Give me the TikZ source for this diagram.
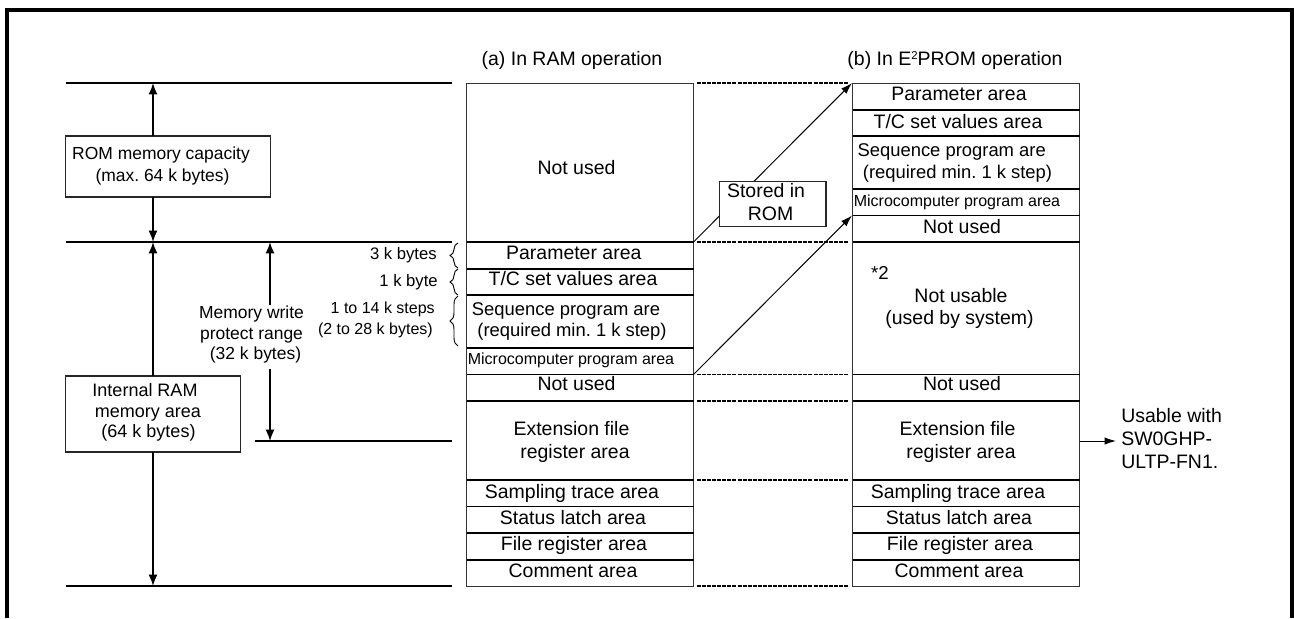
\documentclass[tikz,border=0pt]{standalone}
\usepackage{fontspec}
\setmainfont{Liberation Sans}
\usetikzlibrary{arrows.meta,decorations.pathreplacing}
\newcommand{\fsz}[1]{\fontsize{#1}{#1}\selectfont\frenchspacing}
\tikzset{
  x=0.75pt,y=-0.75pt,
  frameline/.style={line width=3pt,line cap=butt,line join=miter},
  level/.style={line width=1.1pt},
  sep/.style={line width=1.15pt},
  tablebox/.style={draw=black!80,line width=0.75pt,minimum width=#1*0.75pt,minimum height=503*0.75pt,inner sep=0pt},
  txt/.style={inner sep=0pt,font=\fsz{#1pt},text height=#1*0.716pt,text depth=0pt},
  lab/.style={txt=14.6},
  seqlab/.style={txt=13.8},
  smalllab/.style={txt=12.5},
  rangelab/.style={txt=12.0},
  midlab/.style={txt=13.1},
  boxlab/.style={txt=13.5},
  microlab/.style={txt=12.0},
  infobox/.style={draw=black!85,line width=0.8pt,fill=white,inner sep=0pt},
  arr/.style={line width=1.1pt,-{Latex[length=8.5pt,width=6.7pt]}},
  thinarr/.style={line width=0.75pt,-{Latex[length=8.5pt,width=5.5pt]}},
  dashline/.style={line width=1.05pt,dash pattern=on 3pt off 0.8pt},
  bracemark/.style={line width=0.7pt,decorate,decoration={brace,amplitude=6pt}},
}
\begin{document}
\begin{tikzpicture}
\useasboundingbox (0,0) rectangle (1294,618);
% frame
\draw[frameline] (7,618) -- (7,10) -- (1292,10) -- (1292,618);
% level lines
\coordinate (l1a) at (66,83);  \coordinate (l1b) at (452,83);
\coordinate (l2a) at (66,242); \coordinate (l2b) at (452,242);
\coordinate (l3a) at (66,586); \coordinate (l3b) at (452,586);
\coordinate (l4a) at (255,441);\coordinate (l4b) at (452,441);
\draw[level] (l1a)--(l1b); \draw[level] (l2a)--(l2b); \draw[level] (l3a)--(l3b); \draw[level] (l4a)--(l4b);
% left boxes
\node[infobox,minimum width=205*0.75pt,minimum height=61*0.75pt] (rom) at (167.75,166.5) {};
\node[midlab] (romt1) at (161,153) {ROM memory capacity};
\node[midlab] (romt2) at (162.5,175) {(max. 64 k bytes)};
\node[infobox,minimum width=175*0.75pt,minimum height=76*0.75pt] (ram) at (153,414) {};
\node[boxlab] (ramt1) at (145,390) {Internal RAM};
\node[boxlab] (ramt2) at (148,411) {memory area};
\node[boxlab] (ramt3) at (148.5,431) {(64 k bytes)};
% left arrows
\coordinate (a1) at (153,83);  \coordinate (a1b) at (153,136);
\coordinate (a2) at (153,197); \coordinate (a2b) at (153,242);
\coordinate (a3) at (153,376); \coordinate (a4) at (153,452); \coordinate (a5) at (153,586);
\draw[arr] (a1b)--(a1); \draw[arr] (a2)--(a2b);
\draw[arr] (a3)--(a2b); \draw[arr] (a4)--(a5);
% write protect
\coordinate (w1) at (270,242); \coordinate (w2) at (270,305);
\coordinate (w3) at (270,369); \coordinate (w4) at (270,441);
\draw[arr] (w2)--(w1); \draw[arr] (w3)--(w4);
\node[midlab] (wt1) at (251.5,312) {Memory write};
\node[midlab] (wt2) at (251.5,333) {protect range};
\node[midlab] (wt3) at (255.5,353) {(32 k bytes)};
% sizes
\node[smalllab,anchor=east] (s1) at (437,254) {3 k bytes};
\node[smalllab,anchor=east] (s2) at (438,281) {1 k byte};
\node[rangelab,anchor=east] (s3) at (435,308) {1 to 14 k steps};
\node[rangelab,anchor=east] (s4) at (433,329) {(2 to 28 k bytes)};
\draw[bracemark] (458,268) -- (458,243);
\draw[bracemark] (458,295) -- (458,269);
\draw[bracemark] (458,346) -- (458,296);
% titles
\node[lab] (ta) at (572,59) {(a) In RAM operation};
\node[lab] (tb) at (955,59) {(b) In E\raisebox{4.5pt}{\fsz{8.5pt}2}PROM operation};
% tables
\node[tablebox=227] (ta1) at (580,334.5) {};
\node[tablebox=227] (tb1) at (966,334.5) {};
\foreach \y in {242,269,295,348,374.5,401,480,506.5,533,560}
  \draw[sep] (466.5,\y) -- (693.5,\y);
\foreach \y in {110,136,189,215.5,242,374.5,401,480,506.5,533,560}
  \draw[sep] (852.5,\y) -- (1079.5,\y);
% left table text
\node[lab] (a_n) at (576.5,168) {Not used};
\node[lab] (a_p) at (573.8,253) {Parameter area};
\node[lab] (a_t) at (573,279) {T/C set values area};
\node[seqlab] (a_s1) at (566,309) {Sequence program are};
\node[seqlab] (a_s2) at (572,330) {(required min. 1 k step)};
\node[microlab] (a_m) at (571,358.5) {Microcomputer program area};
\node[lab] (a_n2) at (576.5,384) {Not used};
\node[lab] (a_e1) at (571.5,429) {Extension file};
\node[lab] (a_e2) at (575,452) {register area};
\node[lab] (a_sa) at (572,492) {Sampling trace area};
\node[lab] (a_st) at (573,518) {Status latch area};
\node[lab] (a_fi) at (574,544) {File register area};
\node[lab] (a_co) at (573,571) {Comment area};
% right table text
\node[lab] (b_p) at (959,94) {Parameter area};
\node[lab] (b_t) at (958,122) {T/C set values area};
\node[seqlab] (b_s1) at (951.7,150) {Sequence program are};
\node[seqlab] (b_s2) at (957.5,172) {(required min. 1 k step)};
\node[microlab] (b_m) at (957,201) {Microcomputer program area};
\node[lab] (b_n) at (962,227) {Not used};
\node[txt=14] (b_star) at (880,273) {*2};
\node[lab] (b_u1) at (961,296) {Not usable};
\node[lab] (b_u2) at (959.5,318) {(used by system)};
\node[lab] (b_n2) at (962,384) {Not used};
\node[lab] (b_e1) at (957.5,429) {Extension file};
\node[lab] (b_e2) at (961,452) {register area};
\node[lab] (b_sa) at (958,492) {Sampling trace area};
\node[lab] (b_st) at (959,518) {Status latch area};
\node[lab] (b_fi) at (960,544) {File register area};
\node[lab] (b_co) at (959,571) {Comment area};
% dashed links
\foreach \y in {83,242,374.5,401,480,586}
  \draw[dashline] (697,\y) -- (848,\y);
% store arrows
\coordinate (p1) at (693.5,242); \coordinate (q1) at (852,83);
\coordinate (p2) at (693.5,374.5); \coordinate (q2) at (852,215.5);
\draw[thinarr] (p1)--(q1);
\draw[thinarr] (p2)--(q2);
\node[infobox,minimum width=106.5*0.75pt,minimum height=45*0.75pt] (st) at (772.75,204.25) {};
\node[lab] (st1) at (766,191) {Stored in};
\node[lab] (st2) at (770.5,214) {ROM};
% usable
\coordinate (u0) at (1079.5,441); \coordinate (u1) at (1116,441);
\draw[thinarr] (u0)--(u1);
\node[lab,anchor=west] (ut1) at (1121,416) {Usable with};
\node[lab,anchor=west] (ut2) at (1121,439) {SW0GHP-};
\node[lab,anchor=west] (ut3) at (1121,462) {ULTP-FN1.};
\end{tikzpicture}
\end{document}
